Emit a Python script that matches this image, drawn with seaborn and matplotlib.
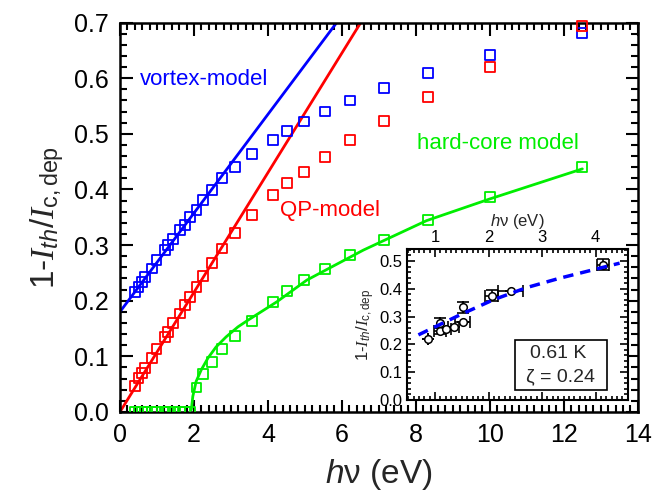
import numpy as np
import pandas as pd
import matplotlib
matplotlib.use("Agg")
import matplotlib.pyplot as plt
from matplotlib.ticker import MultipleLocator, FormatStrFormatter
from matplotlib.patches import Rectangle
import seaborn as sns

# ---------------- data ----------------
energy = [0.41, 0.50, 0.59, 0.68, 0.86, 0.99, 1.22, 1.31, 1.44, 1.62, 1.76, 1.89,
          2.07, 2.25, 2.48, 2.75, 3.11, 3.56, 4.14, 4.52, 4.98, 5.55, 6.23, 7.14,
          8.33, 10.0, 12.5]
vortex_data = [0.216, 0.225, 0.234, 0.243, 0.258, 0.273, 0.291, 0.300, 0.311, 0.327,
               0.336, 0.351, 0.363, 0.381, 0.399, 0.420, 0.441, 0.464, 0.489, 0.505,
               0.522, 0.540, 0.560, 0.583, 0.610, 0.642, 0.681]
qp_data = [0.046, 0.061, 0.070, 0.079, 0.097, 0.113, 0.135, 0.144, 0.160, 0.177,
           0.192, 0.207, 0.225, 0.245, 0.268, 0.294, 0.322, 0.354, 0.390, 0.411,
           0.432, 0.459, 0.489, 0.523, 0.566, 0.620, 0.694]
hardcore_data = [0.0, 0.0, 0.0, 0.0, 0.0, 0.0, 0.0, 0.0, 0.0, 0.0, 0.0, 0.0,
                 0.044, 0.068, 0.090, 0.113, 0.137, 0.164, 0.198, 0.218, 0.237,
                 0.257, 0.282, 0.309, 0.345, 0.386, 0.441]

# model lines
vortex_line_x = [0.0, 5.86]
vortex_line_y = [0.18, 0.70]
qp_line_x = [0.0, 6.51]
qp_line_y = [0.0, 0.70]
hardcore_line_x = [1.93, 1.97, 2.06, 2.20, 2.38, 2.60, 2.87, 3.19, 3.46, 4.24,
                   5.05, 6.58, 8.29, 10.0, 12.5]
hardcore_line_y = [0.004, 0.028, 0.055, 0.076, 0.097, 0.117, 0.135, 0.153, 0.165,
                   0.198, 0.237, 0.291, 0.344, 0.383, 0.437]

# inset data
inset_x = [0.875, 1.09, 1.09, 1.20, 1.35, 1.52, 1.53, 2.06, 2.41, 4.14]
inset_y = [0.218, 0.248, 0.276, 0.255, 0.264, 0.282, 0.333, 0.375, 0.392, 0.486]
inset_xerr = [0.0, 0.115, 0.0, 0.10, 0.10, 0.14, 0.0, 0.124, 0.24, 0.118]
inset_yerr = [0.0, 0.010, 0.018, 0.0, 0.0, 0.0, 0.021, 0.020, 0.0, 0.020]
inset_fit_x = [0.689, 1.466, 2.086, 2.709, 3.33, 3.95, 4.447]
inset_fit_y = [0.234, 0.306, 0.360, 0.404, 0.438, 0.468, 0.492]

# ---------------- style ----------------
sns.set_theme(style="ticks")
plt.rcParams["font.family"] = ["Liberation Sans", "DejaVu Sans"]
plt.rcParams["mathtext.fontset"] = "custom"
plt.rcParams["mathtext.rm"] = "Liberation Sans"
plt.rcParams["mathtext.it"] = "Liberation Serif:italic"
plt.rcParams["mathtext.sf"] = "Liberation Sans:italic"
plt.rcParams["mathtext.bf"] = "Liberation Sans:bold"

BLUE = "#0000ff"
RED = "#ff0000"
GREEN = "#00ee00"

fig = plt.figure(figsize=(6.7, 4.98), dpi=100)
ax = fig.add_axes([0.179, 0.1727, 0.773, 0.782])

df = pd.DataFrame({"E": energy, "vortex": vortex_data, "qp": qp_data, "hc": hardcore_data})

for col, c, clip in [("vortex", BLUE, False), ("qp", RED, False), ("hc", GREEN, True)]:
    sns.scatterplot(data=df, x="E", y=col, marker="s", s=50, color=c,
                    facecolors="none", edgecolor=c, linewidth=1.3, ax=ax,
                    zorder=3, clip_on=clip)

sns.lineplot(x=vortex_line_x, y=vortex_line_y, color=BLUE, lw=2, ax=ax,
             estimator=None, sort=False, zorder=2)
sns.lineplot(x=qp_line_x, y=qp_line_y, color=RED, lw=2, ax=ax,
             estimator=None, sort=False, zorder=2)
sns.lineplot(x=hardcore_line_x, y=hardcore_line_y, color=GREEN, lw=2, ax=ax,
             estimator=None, sort=False, zorder=2)

ax.set_xlim(0, 14)
ax.set_ylim(0, 0.7)
ax.xaxis.set_major_locator(MultipleLocator(2))
ax.xaxis.set_minor_locator(MultipleLocator(0.2))
ax.yaxis.set_major_locator(MultipleLocator(0.1))
ax.yaxis.set_minor_locator(MultipleLocator(0.02))
ax.yaxis.set_major_formatter(FormatStrFormatter("%.1f"))
ax.tick_params(which="both", direction="in", top=True, right=True, width=1.5,
               colors="black", labelsize=18)
ax.tick_params(which="major", length=9, pad=8)
ax.tick_params(which="minor", length=5)
for sp in ax.spines.values():
    sp.set_linewidth(1.8)
    sp.set_color("black")

ylab = r"$\mathrm{1}$-$I_{\mathsf{th}}$/$I_{\mathrm{c,dep}}$"
ax.set_xlabel(r"$\mathsf{h}$ν (eV)", fontsize=24, labelpad=7)
ax.set_ylabel(ylab, fontsize=24, labelpad=6)

ax.text(0.54, 0.597, "vortex-model", color=BLUE, fontsize=16, va="center", ha="left")
ax.text(4.32, 0.363, "QP-model", color=RED, fontsize=16, va="center", ha="left")
ax.text(8.03, 0.483, "hard-core model", color=GREEN, fontsize=16, va="center", ha="left")

# ---------------- inset ----------------
axi = fig.add_axes([0.607, 0.197, 0.330, 0.303])
axi.set_facecolor("white")
axi.errorbar(inset_x, inset_y, xerr=inset_xerr, yerr=inset_yerr, fmt="none",
             ecolor="black", elinewidth=1.2, capsize=4, capthick=1.2, zorder=2)
sns.scatterplot(x=inset_x, y=inset_y, marker="o", s=30, color="white",
                edgecolor="black", linewidth=1.1, ax=axi, zorder=3)
sns.lineplot(x=inset_fit_x, y=inset_fit_y, color=BLUE, lw=2.5, ax=axi,
             estimator=None, sort=False, zorder=4)
axi.lines[-1].set_linestyle((0, (3, 2)))

axi.set_xlim(0.47, 4.6)
axi.set_ylim(0, 0.543)
axi.xaxis.set_major_locator(MultipleLocator(1))
axi.xaxis.set_minor_locator(MultipleLocator(0.1))
axi.yaxis.set_major_locator(MultipleLocator(0.1))
axi.yaxis.set_minor_locator(MultipleLocator(0.02))
axi.yaxis.set_major_formatter(FormatStrFormatter("%.1f"))
axi.tick_params(which="both", direction="in", top=True, right=True, bottom=True,
                labeltop=True, labelbottom=False, width=1.2, labelsize=12,
                colors="black")
axi.tick_params(which="major", length=6, pad=3)
axi.tick_params(which="minor", length=3)
for sp in axi.spines.values():
    sp.set_linewidth(1.5)
    sp.set_color("black")
axi.xaxis.set_label_position("top")
axi.set_xlabel(r"$\mathsf{h}$ν (eV)", fontsize=12, labelpad=3)
axi.set_ylabel(ylab, fontsize=12, labelpad=2)

axi.add_patch(Rectangle((2.49, 0.036), 1.73, 0.18, fill=False, edgecolor="black",
                        lw=1.2, zorder=5))
axi.text(3.3, 0.168, "0.61 K", fontsize=14, ha="center", va="center", zorder=6)
axi.text(3.35, 0.082, "ζ = 0.24", fontsize=14, ha="center", va="center", zorder=6)

fig.savefig("out.png", dpi=100)
